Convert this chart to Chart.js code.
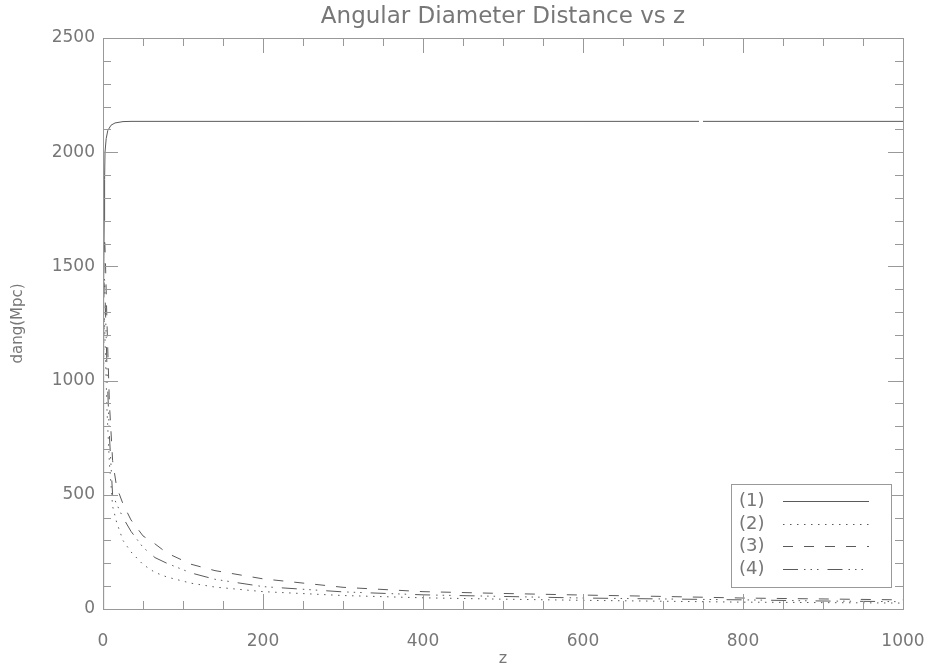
<!DOCTYPE html>
<html>
<head>
<meta charset="utf-8">
<title>Angular Diameter Distance vs z</title>
<script src="https://cdn.jsdelivr.net/npm/chart.js@4.4.0/dist/chart.umd.min.js"></script>
<style>
  html, body { margin: 0; padding: 0; background: #fff; }
</style>
</head>
<body>
<canvas id="dangChart" width="935" height="671"></canvas>
<script>
// curve (1): rises almost at once and stays flat (gap near z=747 as in the plot)
var zSolid = [0, 0.5, 1, 1.5, 2, 2.5, 4, 6, 10, 15, 25, 35, 745, 747, 750, 1000];
var solidVals = [0, 900, 1400, 1700, 1880, 2000, 2060, 2095, 2118, 2128, 2134, 2135, 2135, null, 2135, 2135];

// curves (2), (3), (4) share the same z samples
var zCurves = [0, 0.5, 1, 1.5, 2, 3, 5, 8, 12, 17, 25, 35, 50, 65, 80, 110, 140, 200, 300, 400, 500, 600, 700, 800, 900, 1000];
var dottedVals = [0, 900, 1200, 1280, 1250, 1120, 870, 640, 450, 380, 300, 250, 195, 160, 140, 113, 96, 76, 59, 49, 43, 38, 34, 30, 28, 26];
var dashedVals = [0, 1100, 1500, 1620, 1630, 1530, 1250, 900, 650, 535, 460, 390, 320, 285, 245, 196, 168, 132, 95, 76, 68, 61, 55, 48, 44, 40];
var dashDotVals = [0, 1000, 1350, 1450, 1440, 1320, 1050, 760, 500, 460, 400, 340, 270, 225, 200, 158, 130, 98, 75, 62, 55, 48, 44, 40, 35, 32];

var seriesNames = ["(1)", "(2)", "(3)", "(4)"];

var lineColor = '#5a5a5a';
var axisColor = '#999';
var textColor = '#777';

function toPoints(xs, ys) {
	var out = [];
	for (var i = 0; i < xs.length; i++) {
		out.push({ x: xs[i], y: ys[i] });
	}
	return out;
}

function lineSet(name, xs, ys, dash) {
	return {
		label: name,
		data: toPoints(xs, ys),
		borderColor: lineColor,
		borderWidth: 1,
		borderDash: dash,
		pointRadius: 0,
		fill: false,
		tension: 0,
		spanGaps: false
	};
}

// frame, inward ticks on all sides, and the boxed legend
var frameTicks = {
	id: 'frameTicks',
	afterDatasetsDraw: function (chart) {
		var ctx = chart.ctx;
		var a = chart.chartArea;
		var xs = chart.scales.x;
		var ys = chart.scales.y;
		var v, p, len;

		ctx.save();
		ctx.strokeStyle = axisColor;
		ctx.lineWidth = 1;
		ctx.strokeRect(a.left + 0.5, a.top + 0.5, a.right - a.left, a.bottom - a.top);

		ctx.beginPath();
		for (v = 0; v <= 1000; v += 50) {
			p = Math.round(xs.getPixelForValue(v)) + 0.5;
			len = (v % 200 === 0) ? 15 : 8;
			ctx.moveTo(p, a.bottom); ctx.lineTo(p, a.bottom - len);
			ctx.moveTo(p, a.top); ctx.lineTo(p, a.top + len);
		}
		for (v = 0; v <= 2500; v += 100) {
			p = Math.round(ys.getPixelForValue(v)) + 0.5;
			len = (v % 500 === 0) ? 15 : 8;
			ctx.moveTo(a.left, p); ctx.lineTo(a.left + len, p);
			ctx.moveTo(a.right, p); ctx.lineTo(a.right - len, p);
		}
		ctx.stroke();

		// legend box
		var bw = 160, bh = 103;
		var bx = a.right - 12 - bw;
		var by = a.bottom - 22 - bh;
		ctx.fillStyle = '#fff';
		ctx.fillRect(bx, by, bw, bh);
		ctx.strokeRect(Math.round(bx) + 0.5, Math.round(by) + 0.5, bw, bh);

		ctx.font = '18px "DejaVu Sans"';
		ctx.textBaseline = 'middle';
		ctx.textAlign = 'left';
		chart.data.datasets.forEach(function (ds, i) {
			var ry = Math.round(by + 17 + i * 22.7) + 0.5;
			ctx.fillStyle = textColor;
			ctx.fillText(ds.label, bx + 8, ry);
			ctx.save();
			ctx.strokeStyle = ds.borderColor;
			ctx.lineWidth = 1;
			ctx.setLineDash(ds.borderDash || []);
			ctx.beginPath();
			ctx.moveTo(bx + 52, ry);
			ctx.lineTo(bx + 138, ry);
			ctx.stroke();
			ctx.restore();
		});
		ctx.restore();
	}
};

function plainTick(value) {
	return String(value);
}

// fixed axis boxes so the plot frame lands where the original one is
function fixX(scale) {
	scale.height = 62;
	scale.paddingLeft = 0;
	scale.paddingRight = 0;
}
function fixY(scale) {
	scale.width = 103;
	scale.paddingTop = 0;
	scale.paddingBottom = 0;
}

var ctx = document.getElementById('dangChart').getContext('2d');
var dangChart = new Chart(ctx, {
	type: 'line',
	data: {
		datasets: [
			lineSet(seriesNames[0], zSolid, solidVals, []),
			lineSet(seriesNames[1], zCurves, dottedVals, [1.5, 5.5]),
			lineSet(seriesNames[2], zCurves, dashedVals, [10, 11]),
			lineSet(seriesNames[3], zCurves, dashDotVals, [15, 6, 1.5, 5, 1.5, 5, 1.5, 9])
		]
	},
	plugins: [frameTicks],
	options: {
		responsive: false,
		animation: false,
		events: [],
		layout: { padding: { top: 0, right: 32, bottom: 0, left: 0 } },
		plugins: {
			legend: { display: false },
			tooltip: { enabled: false },
			title: {
				display: true,
				text: 'Angular Diameter Distance vs z',
				fullSize: false,
				color: textColor,
				font: { family: 'DejaVu Sans', size: 23, weight: 'normal', lineHeight: 1.2 },
				padding: { top: 3, bottom: 7.4 }
			}
		},
		scales: {
			x: {
				type: 'linear',
				min: 0,
				max: 1000,
				grid: { display: false, drawTicks: false },
				border: { display: false },
				ticks: {
					stepSize: 200,
					maxRotation: 0,
					color: textColor,
					padding: 22,
					font: { family: 'DejaVu Sans', size: 17 },
					callback: plainTick
				},
				title: {
					display: true,
					text: 'z',
					color: textColor,
					font: { family: 'DejaVu Sans', size: 16 },
					padding: { top: 0, bottom: 3 }
				},
				afterFit: fixX
			},
			y: {
				type: 'linear',
				min: 0,
				max: 2500,
				grid: { display: false, drawTicks: false },
				border: { display: false },
				ticks: {
					stepSize: 500,
					color: textColor,
					padding: 8,
					font: { family: 'DejaVu Sans', size: 17 },
					callback: plainTick
				},
				title: {
					display: true,
					text: 'dang(Mpc)',
					color: textColor,
					font: { family: 'DejaVu Sans', size: 15 },
					padding: { top: 9, bottom: 0 }
				},
				afterFit: fixY
			}
		}
	}
});
</script>
</body>
</html>
